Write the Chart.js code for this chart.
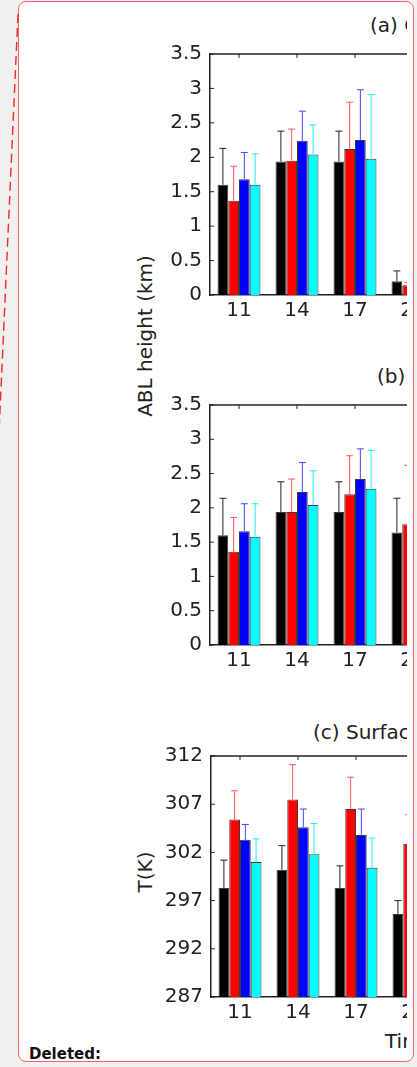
<!DOCTYPE html>
<html>
<head>
<meta charset="utf-8">
<script src="https://cdn.jsdelivr.net/npm/chart.js@4.4.0/dist/chart.umd.min.js"></script>
<style>
  html, body { margin: 0; padding: 0; background: #f0f0f0; }
  body { width: 417px; height: 1067px; position: relative; overflow: hidden; font-family: "DejaVu Sans", sans-serif; color: #222; }
  #page { position: absolute; left: 18px; top: 1px; width: 394px; height: 1059px; background: #fff; border: 1.5px solid #f46464; border-radius: 8px; }
  #dash { position: absolute; left: 0; top: 0; }
  #fig { position: absolute; left: 0; top: 0; width: 407px; height: 1067px; overflow: hidden; }
  #fig canvas { position: absolute; left: 0; }
  .lbl { position: absolute; font-size: 20px; line-height: 20px; white-space: nowrap; }
  .rot { transform: translate(-50%, -50%) rotate(-90deg); }
  #deleted { position: absolute; left: 29px; top: 1045px; font: bold 15px/18px "DejaVu Sans", sans-serif; color: #111; }
</style>
</head>
<body>
<div id="page"></div>
<svg id="dash" width="30" height="440">
  <line x1="18" y1="14" x2="-1" y2="433" stroke="#f02828" stroke-width="1.4" stroke-dasharray="9 5"/>
</svg>

<div id="fig">
  <div class="lbl" style="left:370px; top:15px;">(a) Case 1</div>
  <div class="lbl" style="left:377px; top:366px;">(b) Case 2</div>
  <div class="lbl" style="left:313px; top:722px;">(c) Surface temperature</div>
  <div class="lbl rot" style="left:145px; top:336px;">ABL height (km)</div>
  <div class="lbl rot" style="left:145px; top:872px;">T(K)</div>
  <div class="lbl" style="left:385px; top:1031px;">Time (LT)</div>

  <canvas id="chartA" width="442" height="291" style="top:34px;"></canvas>
  <canvas id="chartB" width="442" height="290" style="top:385px;"></canvas>
  <canvas id="chartC" width="443" height="291" style="top:736px;"></canvas>
</div>

<div id="deleted">Deleted:</div>

<script>
const hours = ['11', '14', '17', '20'];
const barColors = ['#000000', '#ff0000', '#0000ff', '#00ffff'];
const errColors = ['#202020', '#ff5a5a', '#4646ff', '#20eeee'];

// (a) ABL height (km), mean and standard deviation
const aBlack = [1.60, 1.94, 1.94, 0.20];
const aRed   = [1.37, 1.95, 2.12, 0.14];
const aBlue  = [1.68, 2.24, 2.25, 0.12];
const aCyan  = [1.60, 2.04, 1.98, 0.10];
const aBlackSd = [0.53, 0.44, 0.44, 0.15];
const aRedSd   = [0.50, 0.46, 0.68, 0.04];
const aBlueSd  = [0.39, 0.43, 0.73, 0.05];
const aCyanSd  = [0.45, 0.43, 0.93, 0.05];

// (b) ABL height (km)
const bBlack = [1.60, 1.94, 1.94, 1.64];
const bRed   = [1.36, 1.94, 2.20, 1.76];
const bBlue  = [1.66, 2.23, 2.42, 1.90];
const bCyan  = [1.58, 2.04, 2.28, 1.80];
const bBlackSd = [0.54, 0.44, 0.44, 0.50];
const bRedSd   = [0.50, 0.48, 0.56, 0.86];
const bBlueSd  = [0.40, 0.43, 0.44, 0.50];
const bCyanSd  = [0.48, 0.50, 0.56, 0.50];

// (c) surface temperature (K)
const cBlack = [298.3, 300.2, 298.3, 295.6];
const cRed   = [305.4, 307.5, 306.5, 302.9];
const cBlue  = [303.3, 304.6, 303.8, 301.0];
const cCyan  = [301.0, 301.8, 300.4, 299.0];
const cBlackSd = [2.9, 2.5, 2.3, 1.4];
const cRedSd   = [3.0, 3.6, 3.3, 3.0];
const cBlueSd  = [1.6, 1.9, 2.7, 2.0];
const cCyanSd  = [2.4, 3.2, 3.1, 2.0];

const tickFont = { family: 'DejaVu Sans', size: 20 };
const axisColor = '#222';

// upper half of the error bars, from the bar top to mean + sd
const errorBars = {
  id: 'errorBars',
  afterDatasetsDraw(chart) {
    const ctx = chart.ctx;
    const y = chart.scales.y;
    chart.data.datasets.forEach((ds, i) => {
      const meta = chart.getDatasetMeta(i);
      ctx.save();
      ctx.strokeStyle = ds.errColor;
      ctx.lineWidth = 1;
      meta.data.forEach((bar, j) => {
        const top = y.getPixelForValue(ds.data[j] + ds.sd[j]);
        ctx.beginPath();
        ctx.moveTo(bar.x, bar.y);
        ctx.lineTo(bar.x, top);
        ctx.moveTo(bar.x - 3.5, top);
        ctx.lineTo(bar.x + 3.5, top);
        ctx.stroke();
      });
      ctx.restore();
    });
  }
};

// box line on top and inward tick marks
const axisBox = {
  id: 'axisBox',
  beforeDatasetsDraw(chart) {
    const { ctx, chartArea: a, scales: { x, y } } = chart;
    ctx.save();
    ctx.strokeStyle = axisColor;
    ctx.lineWidth = 1.5;
    ctx.beginPath();
    ctx.moveTo(a.left, a.top);
    ctx.lineTo(a.right, a.top);
    ctx.stroke();
    ctx.lineWidth = 1;
    ctx.beginPath();
    y.ticks.forEach(t => {
      const py = y.getPixelForValue(t.value);
      ctx.moveTo(a.left, py);
      ctx.lineTo(a.left + 4, py);
    });
    x.ticks.forEach((t, i) => {
      const px = x.getPixelForTick(i);
      ctx.moveTo(px, a.top);
      ctx.lineTo(px, a.top + 4);
    });
    ctx.stroke();
    ctx.restore();
  }
};

function makePanel(id, means, sds, yMin, yMax, step, axisWidth) {
  return new Chart(document.getElementById(id), {
    type: 'bar',
    data: {
      labels: hours,
      datasets: means.map((m, i) => ({
        data: m,
        sd: sds[i],
        errColor: errColors[i],
        backgroundColor: barColors[i],
        borderColor: '#3a3a3a',
        borderWidth: 1,
        barPercentage: 1,
        categoryPercentage: 0.74
      }))
    },
    options: {
      responsive: false,
      animation: false,
      layout: { padding: { top: 16, right: 0, bottom: 0, left: 0 } },
      plugins: { legend: { display: false }, tooltip: { enabled: false } },
      scales: {
        x: {
          grid: { display: false, drawTicks: false },
          border: { color: axisColor, width: 1.5 },
          ticks: { color: '#222', font: tickFont, padding: 4, maxRotation: 0, autoSkip: false },
          afterFit: s => { s.height = 30; }
        },
        y: {
          min: yMin,
          max: yMax,
          grid: { display: false, drawTicks: false },
          border: { color: axisColor, width: 1.5 },
          ticks: {
            stepSize: step,
            color: '#222',
            font: tickFont,
            padding: 8,
            callback: v => String(Math.round(v * 10) / 10)
          },
          afterFit: s => { s.width = axisWidth; }
        }
      }
    },
    plugins: [axisBox, errorBars]
  });
}

makePanel('chartA', [aBlack, aRed, aBlue, aCyan], [aBlackSd, aRedSd, aBlueSd, aCyanSd], 0, 3.5, 0.5, 210);
makePanel('chartB', [bBlack, bRed, bBlue, bCyan], [bBlackSd, bRedSd, bBlueSd, bCyanSd], 0, 3.5, 0.5, 210);
makePanel('chartC', [cBlack, cRed, cBlue, cCyan], [cBlackSd, cRedSd, cBlueSd, cCyanSd], 287, 312, 5, 211);
</script>
</body>
</html>
